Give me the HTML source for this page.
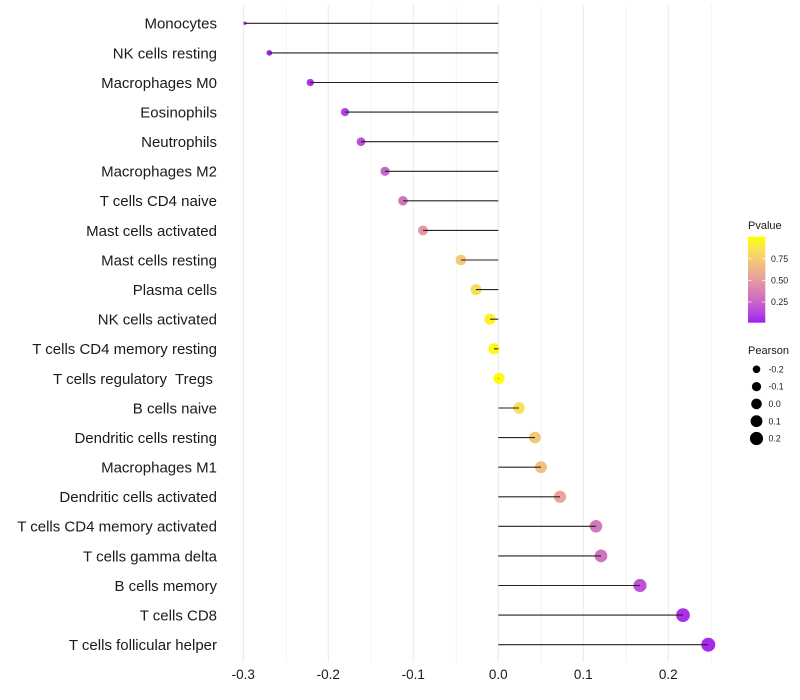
<!DOCTYPE html>
<html>
<head>
<meta charset="utf-8">
<style>
html,body{margin:0;padding:0;background:#fff;}
svg{display:block;font-family:"Liberation Sans",Arial,sans-serif;}
</style>
</head>
<body>
<svg width="800" height="700" viewBox="0 0 800 700" xmlns="http://www.w3.org/2000/svg">
<defs>
<linearGradient id="pg" x1="0" y1="1" x2="0" y2="0">
<stop offset="0" stop-color="#A020F0"/>
<stop offset="0.125" stop-color="#B848DD"/>
<stop offset="0.25" stop-color="#CA66C9"/>
<stop offset="0.375" stop-color="#D981B5"/>
<stop offset="0.5" stop-color="#E59BA0"/>
<stop offset="0.625" stop-color="#EFB489"/>
<stop offset="0.75" stop-color="#F6CD6F"/>
<stop offset="0.875" stop-color="#FBE64E"/>
<stop offset="1" stop-color="#FFFF00"/>
</linearGradient>
</defs>
<rect width="800" height="700" fill="#fff"/>
<!-- grid -->
<g stroke="#ebebeb">
<g stroke-width="0.6">
<line x1="286.2" y1="5" x2="286.2" y2="662"/>
<line x1="371.2" y1="5" x2="371.2" y2="662"/>
<line x1="456.2" y1="5" x2="456.2" y2="662"/>
<line x1="541.2" y1="5" x2="541.2" y2="662"/>
<line x1="626.2" y1="5" x2="626.2" y2="662"/>
<line x1="711.2" y1="5" x2="711.2" y2="662"/>
</g>
<g stroke-width="1.1">
<line x1="243.3" y1="5" x2="243.3" y2="662"/>
<line x1="328.3" y1="5" x2="328.3" y2="662"/>
<line x1="413.3" y1="5" x2="413.3" y2="662"/>
<line x1="498.3" y1="5" x2="498.3" y2="662"/>
<line x1="583.3" y1="5" x2="583.3" y2="662"/>
<line x1="668.3" y1="5" x2="668.3" y2="662"/>
</g>
</g>
<!-- points -->
<g>
<circle cx="245" cy="23.3" r="1.65" fill="#A222EE"/>
<circle cx="269.3" cy="52.9" r="2.85" fill="#A326ED"/>
<circle cx="310.3" cy="82.5" r="3.64" fill="#AD33E6"/>
<circle cx="345" cy="112.1" r="4.13" fill="#B544DF"/>
<circle cx="361" cy="141.7" r="4.32" fill="#BC4FD9"/>
<circle cx="385" cy="171.3" r="4.59" fill="#C864CA"/>
<circle cx="403" cy="200.8" r="4.77" fill="#D174BF"/>
<circle cx="423" cy="230.4" r="4.96" fill="#E398A2"/>
<circle cx="461" cy="260.0" r="5.3" fill="#F4C975"/>
<circle cx="476" cy="289.6" r="5.43" fill="#F9DC5B"/>
<circle cx="490" cy="319.2" r="5.54" fill="#FDF228"/>
<circle cx="494" cy="348.8" r="5.57" fill="#FEF918"/>
<circle cx="499" cy="378.4" r="5.61" fill="#FFFD06"/>
<circle cx="519" cy="408.0" r="5.76" fill="#FAE058"/>
<circle cx="535" cy="437.6" r="5.88" fill="#F4C975"/>
<circle cx="541" cy="467.2" r="5.93" fill="#F2C07D"/>
<circle cx="560" cy="496.8" r="6.06" fill="#E9A597"/>
<circle cx="596" cy="526.3" r="6.3" fill="#D378BC"/>
<circle cx="601" cy="555.9" r="6.34" fill="#D072C0"/>
<circle cx="640" cy="585.5" r="6.59" fill="#BE52D6"/>
<circle cx="683" cy="615.1" r="6.85" fill="#AB2FE8"/>
<circle cx="708.3" cy="644.7" r="7" fill="#A629EC"/>
</g>
<!-- segments -->
<g stroke="#222" stroke-width="1.1">
<line x1="498.3" y1="23.3" x2="245" y2="23.3"/>
<line x1="498.3" y1="52.9" x2="269.3" y2="52.9"/>
<line x1="498.3" y1="82.5" x2="310.3" y2="82.5"/>
<line x1="498.3" y1="112.1" x2="345" y2="112.1"/>
<line x1="498.3" y1="141.7" x2="361" y2="141.7"/>
<line x1="498.3" y1="171.3" x2="385" y2="171.3"/>
<line x1="498.3" y1="200.8" x2="403" y2="200.8"/>
<line x1="498.3" y1="230.4" x2="423" y2="230.4"/>
<line x1="498.3" y1="260.0" x2="461" y2="260.0"/>
<line x1="498.3" y1="289.6" x2="476" y2="289.6"/>
<line x1="498.3" y1="319.2" x2="490" y2="319.2"/>
<line x1="498.3" y1="348.8" x2="494" y2="348.8"/>
<line x1="498.3" y1="378.4" x2="499" y2="378.4"/>
<line x1="498.3" y1="408.0" x2="519" y2="408.0"/>
<line x1="498.3" y1="437.6" x2="535" y2="437.6"/>
<line x1="498.3" y1="467.2" x2="541" y2="467.2"/>
<line x1="498.3" y1="496.8" x2="560" y2="496.8"/>
<line x1="498.3" y1="526.3" x2="596" y2="526.3"/>
<line x1="498.3" y1="555.9" x2="601" y2="555.9"/>
<line x1="498.3" y1="585.5" x2="640" y2="585.5"/>
<line x1="498.3" y1="615.1" x2="683" y2="615.1"/>
<line x1="498.3" y1="644.7" x2="708.3" y2="644.7"/>
</g>
<!-- y labels -->
<g font-size="15" fill="#1a1a1a" text-anchor="end">
<text x="217" y="28.7">Monocytes</text>
<text x="217" y="58.3">NK cells resting</text>
<text x="217" y="87.9">Macrophages M0</text>
<text x="217" y="117.5">Eosinophils</text>
<text x="217" y="147.1">Neutrophils</text>
<text x="217" y="176.7">Macrophages M2</text>
<text x="217" y="206.2">T cells CD4 naive</text>
<text x="217" y="235.8">Mast cells activated</text>
<text x="217" y="265.4">Mast cells resting</text>
<text x="217" y="295.0">Plasma cells</text>
<text x="217" y="324.6">NK cells activated</text>
<text x="217" y="354.2">T cells CD4 memory resting</text>
<text x="217" y="383.8" xml:space="preserve">T cells regulatory  Tregs </text>
<text x="217" y="413.4">B cells naive</text>
<text x="217" y="443.0">Dendritic cells resting</text>
<text x="217" y="472.6">Macrophages M1</text>
<text x="217" y="502.2">Dendritic cells activated</text>
<text x="217" y="531.7">T cells CD4 memory activated</text>
<text x="217" y="561.3">T cells gamma delta</text>
<text x="217" y="590.9">B cells memory</text>
<text x="217" y="620.5">T cells CD8</text>
<text x="217" y="650.1">T cells follicular helper</text>
</g>
<!-- x tick labels -->
<g font-size="13.5" fill="#1a1a1a" text-anchor="middle">
<text x="243.3" y="679">-0.3</text>
<text x="328.3" y="679">-0.2</text>
<text x="413.3" y="679">-0.1</text>
<text x="498.3" y="679">0.0</text>
<text x="583.3" y="679">0.1</text>
<text x="668.3" y="679">0.2</text>
</g>
<!-- Pvalue legend -->
<text x="748" y="229" font-size="11" fill="#1a1a1a">Pvalue</text>
<rect x="748" y="236.7" width="17.3" height="86" fill="url(#pg)"/>
<g stroke="#fff" stroke-width="0.8" opacity="0.9">
<line x1="748" y1="258.7" x2="751.5" y2="258.7"/>
<line x1="761.8" y1="258.7" x2="765.3" y2="258.7"/>
<line x1="748" y1="280.4" x2="751.5" y2="280.4"/>
<line x1="761.8" y1="280.4" x2="765.3" y2="280.4"/>
<line x1="748" y1="302" x2="751.5" y2="302"/>
<line x1="761.8" y1="302" x2="765.3" y2="302"/>
</g>
<g font-size="8.8" fill="#1a1a1a">
<text x="771" y="261.8">0.75</text>
<text x="771" y="283.5">0.50</text>
<text x="771" y="305.1">0.25</text>
</g>
<!-- Pearson legend -->
<text x="748" y="354" font-size="11" fill="#1a1a1a">Pearson</text>
<g fill="#000">
<circle cx="756.5" cy="369.3" r="3.8"/>
<circle cx="756.5" cy="386.6" r="4.6"/>
<circle cx="756.5" cy="403.9" r="5.3"/>
<circle cx="756.5" cy="421.2" r="5.9"/>
<circle cx="756.5" cy="438.5" r="6.6"/>
</g>
<g font-size="8.8" fill="#1a1a1a">
<text x="768.5" y="372.4">-0.2</text>
<text x="768.5" y="389.7">-0.1</text>
<text x="768.5" y="407">0.0</text>
<text x="768.5" y="424.3">0.1</text>
<text x="768.5" y="441.6">0.2</text>
</g>
</svg>
</body>
</html>
